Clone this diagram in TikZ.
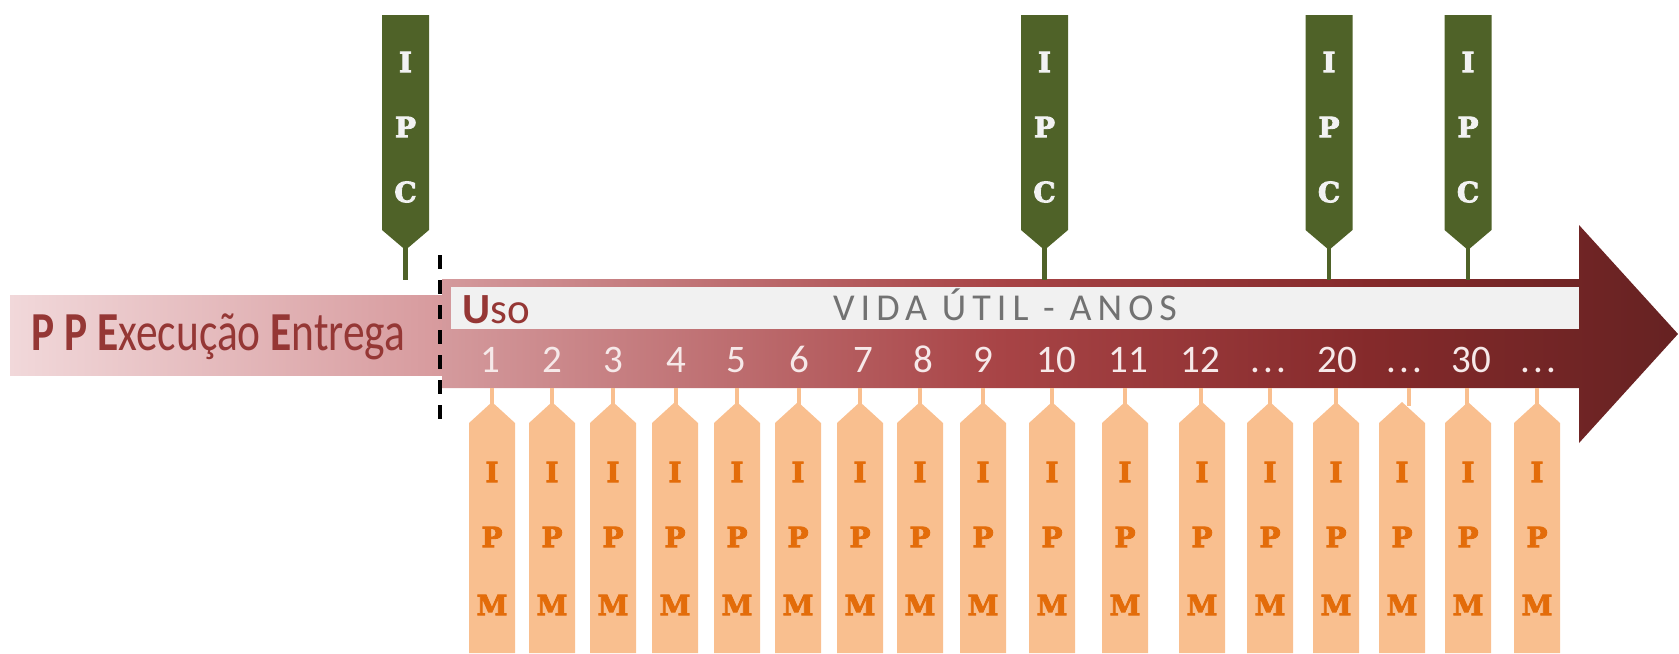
\documentclass[tikz,border=0pt]{standalone}
\usepackage{fontspec}
\setmainfont{Carlito}
\newfontfamily\slabfont[BoldFeatures={FakeBold=3}]{DejaVu Serif}
\newcommand{\mydots}{.\kern0.08em.\kern0.08em.}
\definecolor{dred}{HTML}{953735}
\definecolor{lbL}{HTML}{F1D8DA}
\definecolor{lbR}{HTML}{D79A9D}
\definecolor{sha}{HTML}{D49A9D}
\definecolor{shb}{HTML}{A84446}
\definecolor{shc}{HTML}{852A2B}
\definecolor{shd}{HTML}{662222}
\definecolor{barw}{HTML}{F1F1F1}
\definecolor{greyt}{HTML}{727272}
\definecolor{numc}{HTML}{F6E9E9}
\definecolor{olive}{HTML}{4F6228}
\definecolor{offw}{HTML}{F2F2F2}
\definecolor{bandc}{HTML}{F9BF8F}
\definecolor{oranget}{HTML}{E36C0A}
\pgfdeclarehorizontalshading{arrowshade}{100bp}{color(0bp)=(sha); color(25bp)=(sha); color(47.5bp)=(shb); color(62.5bp)=(shc); color(75bp)=(shd); color(100bp)=(shd)}
\tikzset{
  numlab/.style={anchor=base, inner sep=0pt, text=numc, font=\fontsize{19.5}{20}\selectfont},
  bandlet/.style={inner sep=0pt, text=oranget, font=\slabfont\bfseries\fontsize{14}{14}\selectfont},
  banlet/.style={inner sep=0pt, text=offw, font=\slabfont\bfseries\fontsize{14}{14}\selectfont},
  bandfill/.style={fill=bandc, draw=none},
  stemline/.style={line width=2pt},
}
\begin{document}
\begin{tikzpicture}[x=0.5pt,y=-0.5pt]
\useasboundingbox (0,0) rectangle (1679,653);
% left box
\fill[left color=lbL, right color=lbR] (10,295) rectangle (442,375);
\node[anchor=base west, inner sep=0pt, text=dred, font=\fontsize{27.5}{30}\selectfont] (ppe) at (31,350) {\scalebox{0.79}[1]{\textbf{P P E}xecução \textbf{E}ntrega}};
% main arrow
\shade[shading=arrowshade] (442,279) -- (1579,279) -- (1579,225) -- (1678,334) -- (1579,443) -- (1579,388) -- (442,388) -- cycle;
\fill[barw] (451,287) rectangle (1579,329);
\node[anchor=base west, inner sep=0pt, text=dred, font=\fontsize{21.5}{24}\selectfont] (uso) at (462,323) {\textbf{U}so};
\node[anchor=base, inner sep=0pt, text=greyt, font=\fontsize{19}{20}\selectfont\addfontfeature{LetterSpace=16}] (vida) at (1005,320) {VIDA ÚTIL - ANOS};
% bands
\foreach \bx/\sx/\lab/\lx [count=\k] in {492/492/1/490, 552/552/2/552, 613/613/3/613, 675/676/4/676, 737/737/5/736, 798/799/6/799, 860/860/7/863, 920/920/8/923, 983/983/9/983, 1052/1052/10/1056, 1125/1125/11/1128, 1202/1201/12/1200, 1270/1270/\mydots/1268, 1336/1336/20/1337, 1402/1409/\mydots/1404, 1468/1467/30/1471, 1537/1537/\mydots/1538} {
  \fill[bandfill] (\bx-23,653) -- (\bx-23,423) -- (\bx,402) -- (\bx+23,423) -- (\bx+23,653) -- cycle;
  \coordinate (bs\k) at (\sx,388);
  \coordinate (bt\k) at (\sx,406);
  \draw[stemline, bandc] (bs\k) -- (bt\k);
  \node[numlab] (num\k) at (\lx,372) {\lab};
  \node[bandlet] (bi\k) at (\bx,472) {I};
  \node[bandlet] (bp\k) at (\bx,537) {P};
  \node[bandlet] (bm\k) at (\bx,605) {M};
}
% IPC banners
\foreach \gx [count=\k] in {405.5,1044.5,1329,1468} {
  \fill[olive] (\gx-23.5,15) -- (\gx+23.5,15) -- (\gx+23.5,230) -- (\gx,250) -- (\gx-23.5,230) -- cycle;
  \coordinate (gt\k) at (\gx,248);
  \coordinate (gb\k) at (\gx,280);
  \draw[stemline, olive, line width=2.4pt] (gt\k) -- (gb\k);
  \node[banlet] (gi\k) at (\gx,62) {I};
  \node[banlet] (gp\k) at (\gx,127) {P};
  \node[banlet] (gc\k) at (\gx,192) {C};
}
% dashed separator
\coordinate (dtop) at (440,255);
\coordinate (dbot) at (440,422);
\draw[black, line width=2pt, dash pattern=on 7pt off 5.5pt] (dtop) -- (dbot);
\end{tikzpicture}
\end{document}
